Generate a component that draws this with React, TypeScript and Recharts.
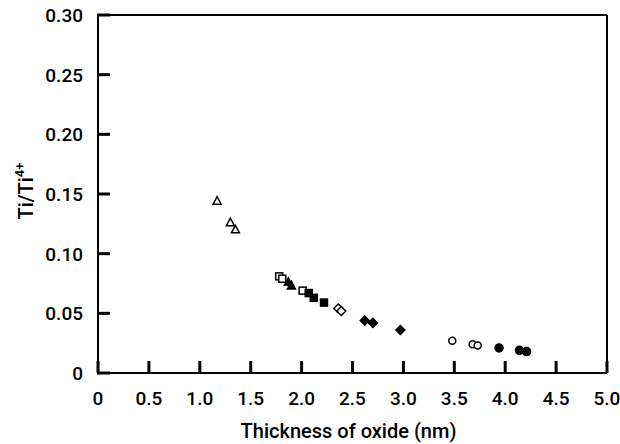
import React from 'react';
import { ScatterChart, Scatter, XAxis, YAxis, ReferenceLine } from 'recharts';

const xTicks = [0, 0.5, 1, 1.5, 2, 2.5, 3, 3.5, 4, 4.5, 5];
const yTicks = [0, 0.05, 0.1, 0.15, 0.2, 0.25, 0.3];

const openTriangles = [
  { x: 1.17, y: 0.144 },
  { x: 1.3, y: 0.126 },
  { x: 1.35, y: 0.12 },
];
const openSquares = [
  { x: 1.78, y: 0.081 },
  { x: 1.81, y: 0.079 },
  { x: 2.01, y: 0.069 },
];
const filledTriangles = [
  { x: 1.87, y: 0.076 },
  { x: 1.9, y: 0.073 },
];
const filledSquares = [
  { x: 2.07, y: 0.067 },
  { x: 2.12, y: 0.063 },
  { x: 2.22, y: 0.059 },
];
const openDiamonds = [
  { x: 2.36, y: 0.054 },
  { x: 2.39, y: 0.052 },
];
const filledDiamonds = [
  { x: 2.62, y: 0.044 },
  { x: 2.7, y: 0.042 },
  { x: 2.97, y: 0.036 },
];
const openCircles = [
  { x: 3.48, y: 0.027 },
  { x: 3.68, y: 0.024 },
  { x: 3.73, y: 0.023 },
];
const filledCircles = [
  { x: 3.94, y: 0.021 },
  { x: 4.14, y: 0.019 },
  { x: 4.21, y: 0.018 },
];

const font = 'Roboto, "Liberation Sans", Arial, sans-serif';

const marker = (kind: string, filled: boolean) => (props: any) => {
  const { cx, cy } = props;
  const common = { fill: filled ? '#000' : '#fff', stroke: '#000', strokeWidth: 1.5 };
  if (kind === 'triangle') {
    return <polygon points={`${cx},${cy - 4.5} ${cx + 4},${cy + 3} ${cx - 4},${cy + 3}`} {...common} />;
  }
  if (kind === 'square') {
    return <rect x={cx - 3.5} y={cy - 3.5} width={7} height={7} {...common} />;
  }
  if (kind === 'diamond') {
    return <polygon points={`${cx},${cy - 4.5} ${cx + 4.5},${cy} ${cx},${cy + 4.5} ${cx - 4.5},${cy}`} {...common} />;
  }
  return <circle cx={cx} cy={cy} r={filled ? 4 : 3.5} {...common} />;
};

// label plus an inward tick mark, measured back from the label position
const XTick = ({ x, y, payload }: any) => (
  <g>
    <rect x={x - 1.5} y={y - 44} width={3} height={12} fill="#000" />
    <text x={x} y={y} textAnchor="middle" fontSize={19} fontWeight={500} fontFamily={font} fill="#000">
      {payload.value === 0 ? '0' : payload.value.toFixed(1)}
    </text>
  </g>
);

const YTick = ({ x, y, payload }: any) => (
  <g>
    <rect x={x + 14} y={y - 1.5} width={13} height={3} fill="#000" />
    <text x={x} y={y + 7} textAnchor="end" fontSize={19} fontWeight={500} fontFamily={font} fill="#000">
      {payload.value === 0 ? '0' : payload.value.toFixed(2)}
    </text>
  </g>
);

const XLabel = ({ viewBox }: any) => (
  <text x={viewBox.x + viewBox.width / 2 - 4} y={viewBox.y + 65} textAnchor="middle" fontSize={20} fontWeight={500} fontFamily={font} fill="#000">
    Thickness of oxide (nm)
  </text>
);

const YLabel = () => (
  <text transform="translate(33,191) rotate(-90)" textAnchor="middle" fontSize={20} fontWeight={500} fontFamily={font} fill="#000">
    Ti/Ti
    <tspan dy={-9} fontSize={13}>4+</tspan>
  </text>
);

const series = [
  { data: openTriangles, kind: 'triangle', filled: false },
  { data: openSquares, kind: 'square', filled: false },
  { data: filledTriangles, kind: 'triangle', filled: true },
  { data: filledSquares, kind: 'square', filled: true },
  { data: openDiamonds, kind: 'diamond', filled: false },
  { data: filledDiamonds, kind: 'diamond', filled: true },
  { data: openCircles, kind: 'circle', filled: false },
  { data: filledCircles, kind: 'circle', filled: true },
];

export default function App() {
  return (
    <div style={{ position: 'absolute', left: 0, top: 0, width: 620, height: 444, background: '#fff' }}>
      <ScatterChart width={620} height={444} margin={{ top: 15, right: 13, left: 0, bottom: 0 }}>
        <XAxis
          type="number"
          dataKey="x"
          domain={[0, 5]}
          ticks={xTicks}
          height={71}
          tickSize={0}
          tickMargin={32}
          tick={<XTick />}
          axisLine={{ stroke: '#000', strokeWidth: 2 }}
          tickLine={false}
          label={{ content: <XLabel /> }}
        />
        <YAxis
          type="number"
          dataKey="y"
          domain={[0, 0.3]}
          ticks={yTicks}
          width={98}
          tickSize={0}
          tickMargin={15}
          tick={<YTick />}
          axisLine={{ stroke: '#000', strokeWidth: 2 }}
          tickLine={false}
          label={{ content: <YLabel /> }}
        />
        <ReferenceLine y={0.3} stroke="#000" strokeWidth={2} />
        <ReferenceLine x={5} stroke="#000" strokeWidth={2} />
        {series.map((s, i) => (
          <Scatter key={i} data={s.data} shape={marker(s.kind, s.filled)} isAnimationActive={false} />
        ))}
      </ScatterChart>
    </div>
  );
}
